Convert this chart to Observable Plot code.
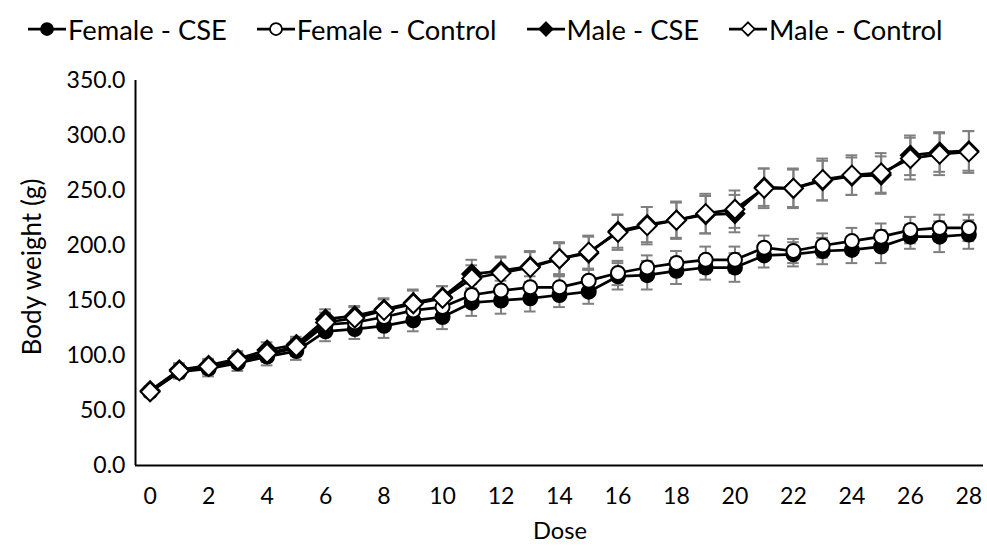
<!DOCTYPE html>
<html>
<head>
<meta charset="utf-8">
<script src="https://cdn.jsdelivr.net/npm/d3@7"></script>
<script src="https://cdn.jsdelivr.net/npm/@observablehq/plot@0.6"></script>
<style>
  html, body { margin: 0; padding: 0; background: #fff; }
  body { width: 987px; height: 552px; overflow: hidden; font-family: Lato, "Open Sans", sans-serif; }
  #legend { height: 60px; display: flex; align-items: center; padding-bottom: 2px; box-sizing: border-box; white-space: nowrap; }
  .item { display: flex; align-items: center; color: #000; }
  .item svg { margin-right: 2px; }
</style>
</head>
<body>
<div id="legend"></div>
<div id="chart"></div>
<script>
const doses = d3.range(0, 29);
const seriesNames = ["Female - CSE", "Female - Control", "Male - CSE", "Male - Control"];
const femaleCSE = [67,85,88,93,99,104,122,124,127,132,135,148,150,152,155,158,172,173,177,180,180,191,192,195,196,199,208,208,210];
const femaleControl = [67,86,89,95,101,107,128,130,135,141,144,155,159,162,162,168,175,180,184,187,187,198,195,200,204,208,214,216,216];
const maleCSE = [68,87,91,97,105,110,133,136,142,148,153,174,177,181,188,193,213,219,223,228,229,253,252,259,263,264,282,285,286];
const maleControl = [67,86,90,96,102,108,130,134,141,147,152,170,175,180,188,194,212,218,223,229,233,252,252,260,264,266,279,283,285];
const femaleCSEsd = [4,6,7,7,8,8,9,9,11,10,11,12,12,12,11,11,12,13,12,11,13,11,11,12,12,15,11,14,13];
const femaleControlsd = [4,5,6,6,7,7,8,8,8,9,9,10,9,10,10,10,11,11,11,12,12,11,11,11,12,12,12,12,12];
const maleCSEsd = [4,6,6,7,7,7,9,9,10,12,10,13,13,14,14,15,15,16,16,17,17,17,17,18,17,17,18,18,18];
const maleControlsd = [4,5,6,6,7,7,9,10,10,12,11,12,14,14,15,15,16,17,17,18,17,18,18,19,18,18,19,19,19];
const yTicks = [0, 50, 100, 150, 200, 250, 300, 350];
const xTicks = [0, 2, 4, 6, 8, 10, 12, 14, 16, 18, 20, 22, 24, 26, 28];
const xTitle = "Dose";
const yTitle = "Body weight (g)";

const FONT = "Lato";
const ctx = document.createElement("canvas").getContext("2d");
function textW(s, size) { ctx.font = `${size}px ${FONT}`; return ctx.measureText(s).width; }
function fitSize(s, target) { return 20 * target / textW(s, 20); }

const tickSize = fitSize("350.0", 59);
const yTitleSize = fitSize(yTitle, 178);
const xTitleSize = fitSize(xTitle, 54);

const styles = {
  "Female - CSE": {symbol: "circle", fill: "#000", r: 7},
  "Female - Control": {symbol: "circle", fill: "#fff", r: 7},
  "Male - CSE": {symbol: "diamond2", fill: "#000", r: 8.5},
  "Male - Control": {symbol: "diamond2", fill: "#fff", r: 8.5}
};

const valueArrays = [femaleCSE, femaleControl, maleCSE, maleControl];
const sdArrays = [femaleCSEsd, femaleControlsd, maleCSEsd, maleControlsd];
const data = [];
seriesNames.forEach((s, i) => {
  doses.forEach((d, j) => {
    data.push({series: s, dose: d, value: valueArrays[i][j], sd: sdArrays[i][j]});
  });
});

const capHalf = 0.2;
const marks = [];
seriesNames.forEach((s) => {
  const ds = data.filter(d => d.series === s);
  marks.push(Plot.ruleX(ds, {x: "dose", y1: d => d.value - d.sd, y2: d => d.value + d.sd, stroke: "#7f7f7f", strokeWidth: 2}));
  marks.push(Plot.ruleY(ds, {y: d => d.value + d.sd, x1: d => d.dose - capHalf, x2: d => d.dose + capHalf, stroke: "#7f7f7f", strokeWidth: 2}));
  marks.push(Plot.ruleY(ds, {y: d => d.value - d.sd, x1: d => d.dose - capHalf, x2: d => d.dose + capHalf, stroke: "#7f7f7f", strokeWidth: 2}));
});
seriesNames.forEach((s) => {
  const ds = data.filter(d => d.series === s);
  const st = styles[s];
  marks.push(Plot.line(ds, {x: "dose", y: "value", stroke: "#000", strokeWidth: 2.75}));
  marks.push(Plot.dot(ds, {x: "dose", y: "value", symbol: st.symbol, fill: st.fill, stroke: "#000", strokeWidth: 2, r: st.r}));
});
marks.push(Plot.ruleX([-0.5], {stroke: "#000", strokeWidth: 2}));
marks.push(Plot.ruleY([0], {stroke: "#000", strokeWidth: 2}));
marks.push(Plot.axisX({ticks: xTicks, tickSize: 0, tickPadding: 22, tickFormat: d => String(d), fontSize: tickSize, label: null}));
marks.push(Plot.axisY({ticks: yTicks, tickSize: 0, tickPadding: 10, tickFormat: d => d.toFixed(1), fontSize: tickSize, label: null}));

const chart = Plot.plot({
  width: 987,
  height: 492,
  marginLeft: 135,
  marginRight: 4,
  marginTop: 20,
  marginBottom: 87,
  style: {fontFamily: `${FONT}, 'Open Sans', sans-serif`, fontSize: `${tickSize}px`, color: "#000", background: "#fff"},
  x: {domain: [-0.5, 28.5]},
  y: {domain: [0, 350]},
  marks
});
const svg = d3.select(chart);
svg.append("text").attr("x", 560).attr("y", 470).attr("text-anchor", "middle").attr("dominant-baseline", "central")
  .attr("font-size", xTitleSize).attr("fill", "#000").text(xTitle);
svg.append("text").attr("transform", "translate(31,207) rotate(-90)").attr("text-anchor", "middle").attr("dominant-baseline", "central")
  .attr("font-size", yTitleSize).attr("fill", "#000").text(yTitle);
document.getElementById("chart").appendChild(chart);

// legend
const legend = document.getElementById("legend");
const keyW = 38, gap = 30, startX = 28, endX = 943;
legend.style.paddingLeft = startX + "px";
const totalText = seriesNames.reduce((a, s) => a + textW(s, 20), 0);
const legendSize = 20 * (endX - startX - 4 * (keyW + 2) - 3 * gap) / totalText;
seriesNames.forEach((s, i) => {
  const st = styles[s];
  const item = document.createElement("div");
  item.className = "item";
  item.style.fontSize = legendSize + "px";
  if (i > 0) item.style.marginLeft = gap + "px";
  const sv = d3.create("svg").attr("width", keyW).attr("height", 20);
  sv.append("line").attr("x1", 0).attr("x2", keyW).attr("y1", 10).attr("y2", 10).attr("stroke", "#000").attr("stroke-width", 2.75);
  const sym = st.symbol === "circle" ? d3.symbolCircle : d3.symbolDiamond2;
  const size = st.symbol === "circle" ? Math.PI * 6 * 6 : 2 * 7.5 * 7.5;
  sv.append("path").attr("d", d3.symbol(sym, size)()).attr("transform", `translate(${keyW / 2},10)`)
    .attr("fill", st.fill).attr("stroke", "#000").attr("stroke-width", 1.75);
  item.appendChild(sv.node());
  const t = document.createElement("span");
  t.textContent = s;
  item.appendChild(t);
  legend.appendChild(item);
});
</script>
</body>
</html>
